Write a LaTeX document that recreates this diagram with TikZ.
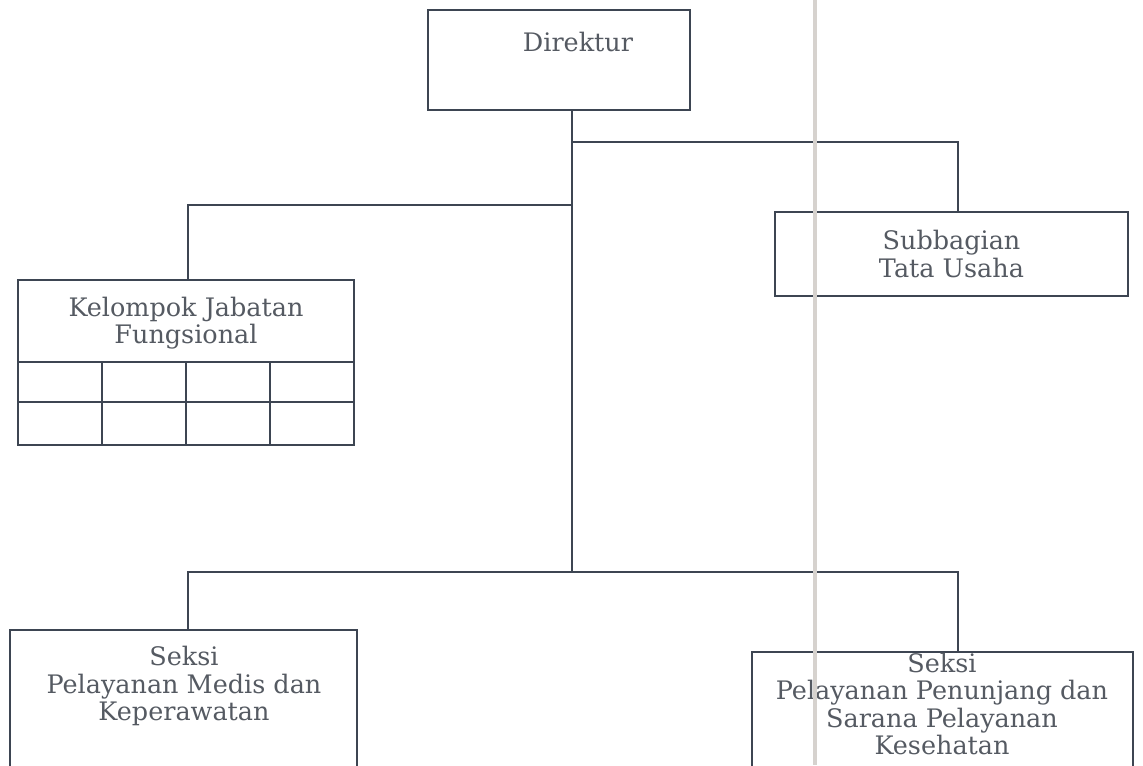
\documentclass[tikz,border=0pt]{standalone}
\usepackage{fontspec}
\setmainfont{DejaVu Serif}
\definecolor{linec}{HTML}{3D4552}
\definecolor{textc}{HTML}{555A62}
\definecolor{scanc}{HTML}{D6D2CE}
\begin{document}
\begin{tikzpicture}[x=0.02cm,y=-0.02cm,
  box/.style={draw=linec, line width=1pt, rectangle, inner sep=0pt},
  txt/.style={font=\fontsize{14.5}{15.6}\selectfont, text=textc, align=center, inner sep=0pt},
  conn/.style={draw=linec, line width=0.9pt},
  scanline/.style={draw=scanc, line width=2.6pt}]
\path[use as bounding box] (0,0) rectangle (1143,765);
\clip (0,0) rectangle (1143,765);
% boxes
\node[box, minimum width=5.24cm, minimum height=2cm] (dir) at (559,60) {};
\node[txt] (dirt) at (578,42) {Direktur};
\node[box, minimum width=7.06cm, minimum height=1.68cm, txt] (sub) at (951.5,254) {Subbagian\\Tata Usaha};
\node[box, minimum width=6.72cm, minimum height=3.3cm] (kel) at (186,362.5) {};
\node[txt] (kelt) at (186,323) {Kelompok Jabatan\\Fungsional};
\node[box, minimum width=6.94cm, minimum height=3cm] (bl) at (183.5,705) {};
\node[txt] (blt) at (184,686) {Seksi\\Pelayanan Medis dan\\Keperawatan};
\node[box, minimum width=7.62cm, minimum height=2.56cm] (br) at (942.5,716) {};
\node[txt] (brt) at (942,704) {Seksi\\Pelayanan Penunjang dan\\Sarana Pelayanan\\Kesehatan};
% grid inside Kelompok box
\draw[conn] (18,362) -- (354,362);
\draw[conn] (18,402) -- (354,402);
\foreach \gx in {102,186,270} \draw[conn] (\gx,362) -- (\gx,445);
% connectors
\coordinate (j1) at (572,142);
\coordinate (j2) at (572,205);
\coordinate (j3) at (572,572);
\coordinate (d1) at (958,142);
\coordinate (d2) at (188,205);
\coordinate (d3) at (188,572);
\coordinate (d4) at (958,572);
\draw[conn] (dir.south -| j1) -- (j3);
\draw[conn] (j1) -- (d1) -- (d1 |- sub.north);
\draw[conn] (j2) -- (d2) -- (d2 |- kel.north);
\draw[conn] (d3 |- bl.north) -- (d3) -- (d4) -- (d4 |- br.north);
% scan fold line
\draw[scanline] (815,0) -- (815,765);
\end{tikzpicture}
\end{document}
